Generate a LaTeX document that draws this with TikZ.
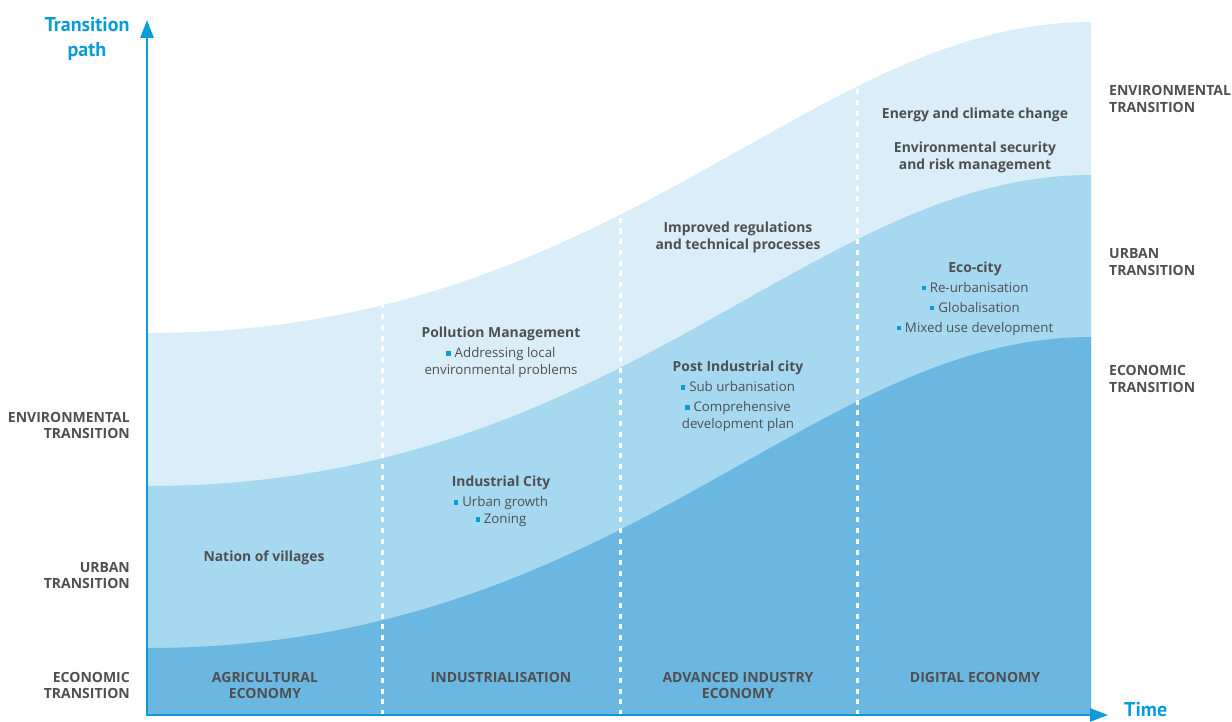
\documentclass[tikz,border=0pt]{standalone}
\usepackage{fontspec}
\setmainfont{Open Sans}
\newfontfamily\ptsans{PT Sans}
\usetikzlibrary{arrows.meta}
\definecolor{envband}{HTML}{DAEEF9}
\definecolor{urbband}{HTML}{A6D8F0}
\definecolor{ecoband}{HTML}{6AB7E1}
\definecolor{axisblue}{HTML}{0A9BD9}
\definecolor{txtgray}{HTML}{4F4F51}
\newcommand\blt{{\color{axisblue}\rule[0.16em]{0.32em}{0.32em}}\hspace{0.3em}}
\newcommand\hd[1]{{\fontsize{13.9}{17}\selectfont\bfseries #1}}
\begin{document}
\begin{tikzpicture}[x=1pt,y=-1pt,
  axisline/.style={draw=axisblue,line width=2.7pt,{Triangle[length=18pt,width=13pt]}-{Triangle[length=18pt,width=13pt]}},
  axlbl/.style={font={\fontsize{20}{25}\ptsans\bfseries},text=axisblue,align=center,inner sep=0pt},
  caplbl/.style={font={\fontsize{14}{16.5}\selectfont\bfseries},text=txtgray,inner sep=0pt},
  blocktxt/.style={font={\fontsize{13.3}{17}\selectfont},text=txtgray,align=center,inner sep=0pt},
  divider/.style={draw=white,line width=3pt,dash pattern=on 5pt off 5.7pt}]
\useasboundingbox (0,0) rectangle (1232,722);
% bands
\fill[envband] (148,715) -- (148,333) .. controls (620,333) and (808,22) .. (1091,22) -- (1091,715) -- cycle;
\fill[urbband] (148,715) -- (148,486) .. controls (620,486) and (808,175) .. (1091,175) -- (1091,715) -- cycle;
\fill[ecoband] (148,715) -- (148,648) .. controls (620,648) and (808,337) .. (1091,337) -- (1091,715) -- cycle;
% dividers
\coordinate (d1) at (382.5,715);
\coordinate (d1t) at (382.5,0);
\coordinate (d2) at (620,715);
\coordinate (d2t) at (620,0);
\coordinate (d3) at (857,715);
\coordinate (d3t) at (857,0);
\begin{scope}
\clip (148,715) -- (148,333) .. controls (620,333) and (808,22) .. (1091,22) -- (1091,715) -- cycle;
\draw[divider] (d1) -- (d1t);
\draw[divider] (d2) -- (d2t);
\draw[divider] (d3) -- (d3t);
\end{scope}
% axes
\coordinate (O) at (147,715);
\coordinate (ytip) at (147,20);
\coordinate (xtip) at (1108,715);
\draw[axisline] (ytip) -- (O) -- (xtip);
\node[axlbl] (tp) at (87,39) {Transition\\path};
\node[axlbl,anchor=west] (time) at (1124,710) {Time};
% left labels
\node[caplbl,anchor=east,align=right] (lenv) at (130,425.5) {ENVIRONMENTAL\\TRANSITION};
\node[caplbl,anchor=east,align=right] (lurb) at (130,575.5) {URBAN\\TRANSITION};
\node[caplbl,anchor=east,align=right] (leco) at (130,685.5) {ECONOMIC\\TRANSITION};
% right labels
\node[caplbl,anchor=west,align=left] (renv) at (1109,99) {ENVIRONMENTAL\\TRANSITION};
\node[caplbl,anchor=west,align=left] (rurb) at (1109,262) {URBAN\\TRANSITION};
\node[caplbl,anchor=west,align=left] (reco) at (1109,379) {ECONOMIC\\TRANSITION};
% bottom labels
\node[caplbl,align=center] (agr) at (265,685.5) {AGRICULTURAL\\ECONOMY};
\node[caplbl,align=center] (ind) at (501,677.5) {INDUSTRIALISATION};
\node[caplbl,align=center] (adv) at (738,685.5) {ADVANCED INDUSTRY\\ECONOMY};
\node[caplbl,align=center] (dig) at (975,677.5) {DIGITAL ECONOMY};
% column texts
\node[blocktxt] (nat) at (264,557.5) {\hd{Nation of villages}};
\node[blocktxt] (pol) at (501,352.5) {\hd{Pollution Management}\\[3pt]\blt Addressing local\\environmental problems};
\node[blocktxt] (icity) at (501,501.5) {\hd{Industrial City}\\[3pt]\blt Urban growth\\\blt Zoning};
\node[blocktxt] (reg) at (738,237.5) {\hd{Improved regulations}\\\hd{and technical processes}};
\node[blocktxt] (post) at (738,396.5) {\hd{Post Industrial city}\\[3pt]\blt Sub urbanisation\\[3pt]\blt Comprehensive\\development plan};
\node[blocktxt] (energy) at (975,115) {\hd{Energy and climate change}};
\node[blocktxt] (envsec) at (975,157) {\hd{Environmental security}\\\hd{and risk management}};
\node[blocktxt] (eco) at (975,298.5) {\hd{Eco-city}\\[3pt]\blt Re-urbanisation\\[3pt]\blt Globalisation\\[3pt]\blt Mixed use development};
\end{tikzpicture}
\end{document}
